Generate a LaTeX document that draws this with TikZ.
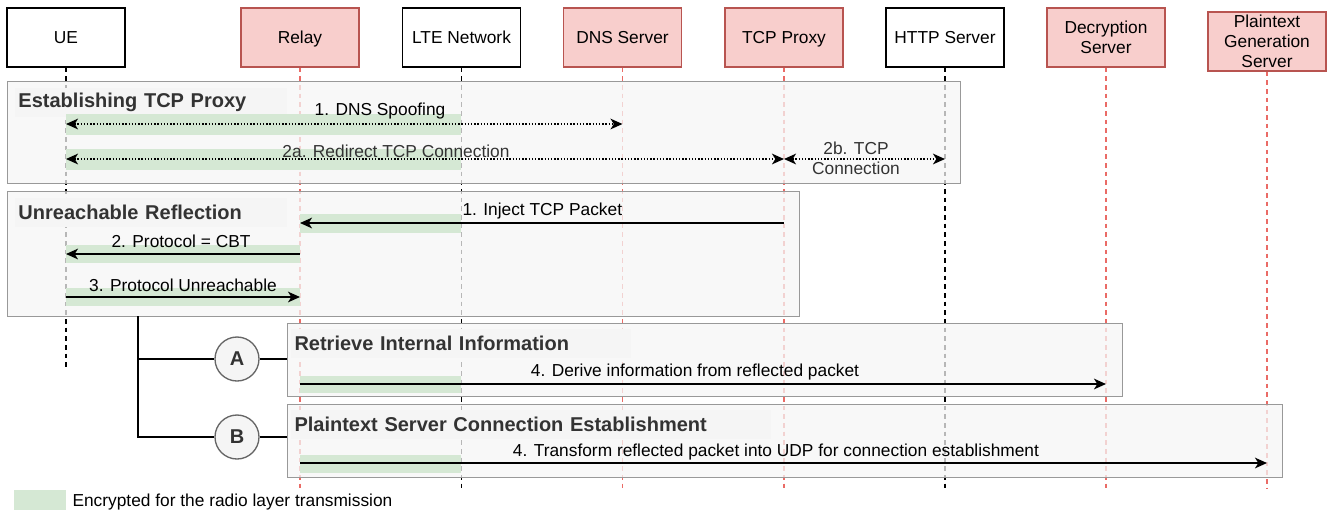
\documentclass[tikz,border=0pt]{standalone}
\usepackage{fontspec}
\setmainfont{Liberation Sans}
\usetikzlibrary{arrows.meta}

\definecolor{redfill}{HTML}{F8CECC}
\definecolor{redline}{HTML}{B85450}
\definecolor{redlife}{HTML}{EA6B66}
\definecolor{bandgreen}{HTML}{D5E8D4}
\definecolor{framefill}{HTML}{F5F5F5}
\definecolor{framegray}{HTML}{999999}
\definecolor{titlegray}{HTML}{333333}

\tikzset{every picture/.style={line width=0.75pt}}
\tikzset{
  actor/.style={draw=black, fill=white, line width=1.1pt, minimum width=88.5pt, minimum height=44.25pt, align=center, inner sep=0pt, text depth=0pt, font=\fontsize{13}{15}\selectfont},
  actorred/.style={actor, draw=redline, fill=redfill},
  lifeline/.style={dash pattern=on 3.5pt off 3pt, line width=1pt, draw=black},
  lifered/.style={lifeline, draw=redlife},
  frame/.style={draw=framegray, fill=framefill, fill opacity=0.75, line width=1.1pt, anchor=north west, inner sep=0pt},
  frametitle/.style={anchor=north west, fill=black!4, text=titlegray, inner xsep=3pt, inner ysep=0pt, align=left, font=\fontsize{15}{18}\selectfont\bfseries},
  band/.style={fill=bandgreen},
  msg/.style={line width=1.1pt, -{Stealth[length=9pt,width=8pt,inset=2.5pt]}},
  dotmsg/.style={line width=1.1pt, dash pattern=on 1.1pt off 1.3pt, {Stealth[length=9pt,width=8pt,inset=2.5pt]}-{Stealth[length=9pt,width=8pt,inset=2.5pt]}},
  lbl/.style={inner sep=0pt, font=\fontsize{13}{15}\selectfont},
  branch/.style={line width=2.2pt},
  choice/.style={circle, draw=black!60, fill=framefill, line width=1pt, minimum size=33pt, inner sep=0pt, text=titlegray, font=\fontsize{15}{18}\selectfont\bfseries},
}

\begin{document}
\begin{tikzpicture}[x=0.75pt,y=0.75pt,yscale=-1,xscale=1]
  \useasboundingbox (0,0) rectangle (1329,512);

  % Participants
  \node[actor]    (ue)    at (66,37.5)   {UE};
  \node[actorred] (relay) at (300,37.5)  {Relay};
  \node[actor]    (lte)   at (461.5,37.5) {LTE Network};
  \node[actorred] (dns)   at (622.5,37.5) {DNS Server};
  \node[actorred] (proxy) at (784,37.5)  {TCP Proxy};
  \node[actor]    (http)  at (945,37.5)  {HTTP Server};
  \node[actorred] (decr)  at (1106,37.5) {Decryption\\Server};
  \node[actorred] (plain) at (1267,41.5) {Plaintext\\Generation\\Server};

  % Lifelines
  \coordinate (uebottom) at (0,370);
  \coordinate (bottom) at (0,492);
  \draw[lifeline] (ue.south) -- (ue.south |- uebottom);
  \draw[lifered]  (relay.south) -- (relay.south |- bottom);
  \draw[lifeline] (lte.south) -- (lte.south |- bottom);
  \draw[lifered]  (dns.south) -- (dns.south |- bottom);
  \draw[lifered]  (proxy.south) -- (proxy.south |- bottom);
  \draw[lifeline] (http.south) -- (http.south |- bottom);
  \draw[lifered]  (decr.south) -- (decr.south |- bottom);
  \draw[lifered]  (plain.south) -- (plain.south |- 0,488);

  % Frames
  \node[frame, minimum width=714.75pt, minimum height=76.5pt] (fr1) at (7,81) {};
  \node[frame, minimum width=594pt, minimum height=93.75pt] (fr2) at (7,191) {};
  \node[frame, minimum width=626.25pt, minimum height=54.75pt] (frA) at (287,323) {};
  \node[frame, minimum width=746.25pt, minimum height=54.75pt] (frB) at (287,404) {};

  % Frame titles
  \node[frametitle, text width=198pt, minimum height=22pt] (t1) at (14,87) {Establishing TCP Proxy};
  \node[frametitle, text width=198pt, minimum height=22pt] (t2) at (14,197) {Unreachable Reflection};
  \node[frametitle, text width=249pt, minimum height=22pt] (tA) at (290,328) {Retrieve Internal Information};
  \node[frametitle, text width=354pt, minimum height=22pt] (tB) at (290,409) {Plaintext Server Connection Establishment};

  %Shape: green bands (radio layer)
  \fill[band] (66,114) rectangle (461,135);
  \fill[band] (66,149) rectangle (461,170);
  \fill[band] (300,214) rectangle (461,233);
  \fill[band] (66,245) rectangle (300,263);
  \fill[band] (66,288) rectangle (300,306);
  \fill[band] (300,376) rectangle (461,393);
  \fill[band] (300,455) rectangle (461,473);

  % Messages
  \coordinate (m1) at (0,124);
  \coordinate (m2) at (0,159);
  \coordinate (r1) at (0,223);
  \coordinate (r2) at (0,254);
  \coordinate (r3) at (0,297);
  \coordinate (a4) at (0,384);
  \coordinate (b4) at (0,463);
  \draw[dotmsg] (ue |- m1) -- (dns |- m1);
  \draw[dotmsg] (ue |- m2) -- (proxy |- m2);
  \draw[dotmsg] (proxy |- m2) -- (http |- m2);
  \draw[msg] (proxy |- r1) -- (relay |- r1);
  \draw[msg] (relay |- r2) -- (ue |- r2);
  \draw[msg] (ue |- r3) -- (relay |- r3);
  \draw[msg] (relay |- a4) -- (decr |- a4);
  \draw[msg] (relay |- b4) -- (plain |- b4);

  % Text Node
  \node[lbl] (l1) at (380,111) {1. DNS Spoofing};
  % Text Node
  \node[lbl, text=titlegray] (l2a) at (396,151) {2a. Redirect TCP Connection};
  % Text Node
  \node[lbl, text=titlegray, align=center] (l2b) at (856,158) {2b. TCP\\Connection};
  % Text Node
  \node[lbl, anchor=west] (lr1) at (462,211) {1. Inject TCP Packet};
  % Text Node
  \node[lbl] (lr2) at (181,241) {2. Protocol = CBT};
  % Text Node
  \node[lbl] (lr3) at (183,285) {3. Protocol Unreachable};
  % Text Node
  \node[lbl] (la4) at (695,372) {4. Derive information from reflected packet};
  % Text Node
  \node[lbl] (lb4) at (776,452) {4. Transform reflected packet into UDP for connection establishment};

  % Branches
  \node[choice] (ca) at (237,359) {A};
  \node[choice] (cb) at (237,437) {B};
  \coordinate (fork) at (138,316);
  \draw[branch] (fork) |- (cb.west);
  \draw[branch] (fork |- ca) -- (ca.west);
  \draw[branch] (ca.east) -- (frA.west |- ca);
  \draw[branch] (cb.east) -- (frB.west |- cb);

  % Legend
  \fill[band] (14,490) rectangle (66,510);
  \node[lbl, anchor=west] (legend) at (72,502) {Encrypted for the radio layer transmission};

\end{tikzpicture}
\end{document}
